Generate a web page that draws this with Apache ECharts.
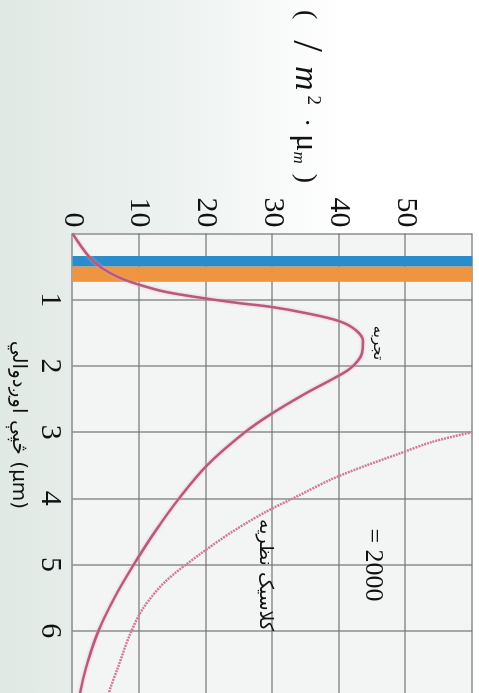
<!DOCTYPE html>
<html>
<head>
<meta charset="utf-8">
<script src="https://cdn.jsdelivr.net/npm/echarts@6.0.0/dist/echarts.min.js"></script>
<style>
  html, body { margin: 0; padding: 0; width: 479px; height: 693px; overflow: hidden; }
  body { background: linear-gradient(to right, #e1e9e5 0%, #ecf2ef 35%, #ffffff 72%); position: relative; }
  /* chart is drawn lying down, then turned 90deg clockwise */
  #chart { position: absolute; left: 0; top: 0; width: 700px; height: 479px;
           transform-origin: 0 0; transform: translate(479px, 0) rotate(90deg); }
</style>
</head>
<body>
<div id="chart"></div>
<script>
// wavelength (µm) ticks and intensity ticks
var lambdaTicks = [0, 1, 2, 3, 4, 5, 6, 7];
var intensityTicks = [0, 10, 20, 30, 40, 50, 60];

// experiment curve (T = 2000 K)
var expLambda = [0, 0.34, 0.52, 0.66, 0.77, 0.88, 0.98, 1.05, 1.11, 1.2, 1.32, 1.45, 1.62, 1.82, 2.02, 2.15, 2.42, 2.72, 3.0, 3.5, 4.0, 4.5, 5.0, 5.5, 6.0, 6.5, 7.0];
var expValue = [0, 2.4, 4.4, 6.9, 9.9, 13.9, 19.9, 24.9, 29.9, 34.9, 39.9, 42.4, 43.6, 43.4, 41.9, 39.9, 34.9, 29.9, 25.9, 20.2, 16.0, 12.4, 9.2, 6.3, 3.9, 2.2, 1.0];

// classical theory curve
var clsLambda = [3.0, 3.15, 3.33, 3.51, 3.71, 3.96, 4.21, 4.51, 4.86, 5.26, 5.66, 6.06, 6.56, 6.86, 7.0];
var clsValue = [60, 53.9, 48.9, 43.9, 38.9, 33.9, 28.9, 23.9, 18.9, 13.9, 10.6, 8.6, 6.8, 5.7, 5.3];

// visible light bands
var blueBand = [0.34, 0.5];
var orangeBand = [0.5, 0.73];

function pairs(xs, ys) {
    var out = [];
    for (var i = 0; i < xs.length; i++) {
        out.push([xs[i], ys[i]]);
    }
    return out;
}

var myChart = echarts.init(document.getElementById('chart'), null, { renderer: 'canvas' });

var serif = 'Liberation Serif';
var arabic = 'DejaVu Sans';

var option = {
    backgroundColor: 'transparent',
    animation: false,
    grid: {
        left: 233.5, right: 1, top: 6.7, bottom: 72.5,
        show: true, backgroundColor: '#f3f5f5', borderWidth: 0
    },
    xAxis: {
        type: 'value',
        min: lambdaTicks[0], max: lambdaTicks[lambdaTicks.length - 1], interval: 1,
        axisLine: { show: false }, axisTick: { show: false },
        axisLabel: {
            margin: 8, fontSize: 30, color: '#111', fontFamily: serif,
            showMinLabel: true, showMaxLabel: true,
            formatter: function (v) { return (v === 0 || v === 7) ? '' : String(v); }
        },
        splitLine: { show: true, lineStyle: { color: 'rgba(115,115,115,0.6)', width: 2 } }
    },
    yAxis: {
        type: 'value',
        min: intensityTicks[0], max: intensityTicks[intensityTicks.length - 1], interval: 10,
        axisLine: { show: false }, axisTick: { show: false },
        axisLabel: {
            margin: 6, fontSize: 30, color: '#111', fontFamily: serif,
            showMinLabel: true, showMaxLabel: true,
            formatter: function (v) { return v === 60 ? '' : String(v); }
        },
        splitLine: { show: true, lineStyle: { color: 'rgba(115,115,115,0.6)', width: 2 } }
    },
    series: [
        {
            // only carries the coloured bands
            type: 'line', data: [], z: 1, silent: true,
            markArea: {
                silent: true,
                data: [
                    [{ xAxis: blueBand[0], itemStyle: { color: '#2a8ccb' } }, { xAxis: blueBand[1] }],
                    [{ xAxis: orangeBand[0], itemStyle: { color: '#ef943f' } }, { xAxis: orangeBand[1] }]
                ]
            }
        },
        {
            name: 'classic', type: 'line', z: 3, smooth: 0.3, showSymbol: false, clip: true,
            data: pairs(clsLambda, clsValue),
            lineStyle: { color: '#d07b99', width: 2.5, type: [2, 1] }
        },
        {
            name: 'experiment', type: 'line', z: 4, smooth: 0.35, showSymbol: false, clip: true,
            data: pairs(expLambda, expValue),
            lineStyle: { color: '#b65a7e', width: 2.5, shadowBlur: 3, shadowColor: 'rgba(240,160,190,0.8)' }
        }
    ],
    graphic: [
        {
            type: 'text', x: 10, y: 174,
            style: {
                text: '{a|(   }{l|/}{a|  }{i|m}{s|2}{a| · }{u|μ}{b|m}{a| )}',
                verticalAlign: 'middle', fill: '#111',
                rich: {
                    a: { fontSize: 28, fontFamily: serif, fill: '#111' },
                    l: { fontSize: 42, fontFamily: serif, fill: '#111' },
                    i: { fontSize: 34, fontFamily: serif, fontStyle: 'italic', fill: '#111' },
                    s: { fontSize: 19, fontFamily: serif, fill: '#111', padding: [0, 6, 16, 5] },
                    u: { fontSize: 32, fontFamily: serif, fill: '#111' },
                    b: { fontSize: 17, fontFamily: serif, fontStyle: 'italic', fill: '#111', padding: [14, 3, 0, 0] }
                }
            }
        },
        {
            type: 'text', x: 425, y: 461,
            style: { text: 'څپې اوږدوالي (μm)', fontSize: 20, fontFamily: arabic, fill: '#111', align: 'center', verticalAlign: 'middle' }
        },
        {
            type: 'text', x: 343, y: 101, z: 10,
            style: { text: 'تجربه', fontSize: 15, fontFamily: arabic, fill: '#111', align: 'center', verticalAlign: 'middle' }
        },
        {
            type: 'text', x: 575, y: 214, z: 10,
            style: { text: 'کلاسیک نظریه', fontSize: 19, fontFamily: arabic, fill: '#111', align: 'center', verticalAlign: 'middle' }
        },
        {
            type: 'text', x: 565, y: 106, z: 10,
            style: { text: '= 2000', fontSize: 26, fontFamily: serif, fill: '#111', align: 'center', verticalAlign: 'middle' }
        }
    ]
};

myChart.setOption(option);
</script>
</body>
</html>
